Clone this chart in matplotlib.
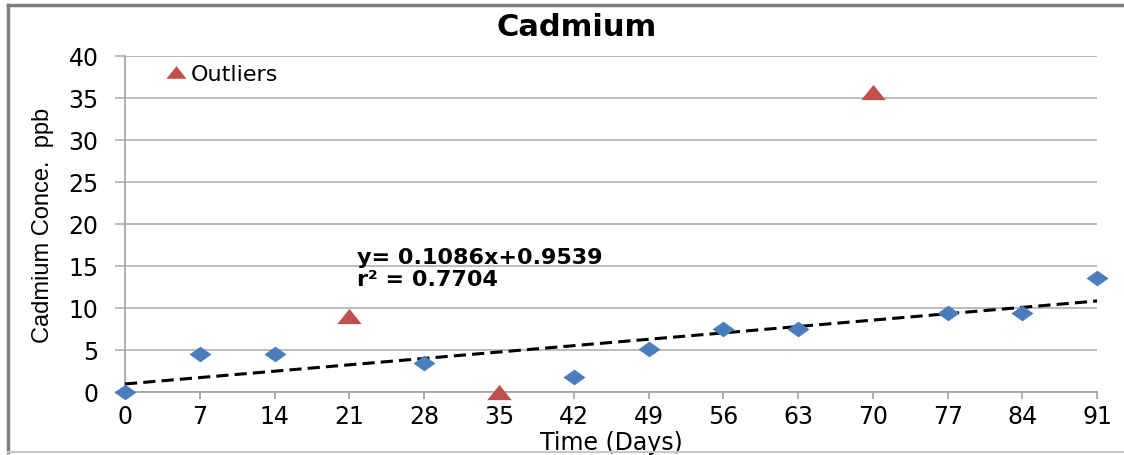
import matplotlib
matplotlib.use("Agg")
import matplotlib.pyplot as plt
from matplotlib.lines import Line2D
from matplotlib.path import Path
import numpy as np

plt.rcParams['font.family'] = ['DejaVu Sans']

# measured values
days = [0, 7, 14, 28, 42, 49, 56, 63, 77, 84, 91]
cadmium = [0.0, 4.5, 4.5, 3.5, 1.8, 5.1, 7.5, 7.5, 9.4, 9.4, 13.6]
outlier_days = [21, 35, 70]
outlier_vals = [9.0, 0.0, 35.7]
slope = 0.1086
intercept = 0.9539
r2 = 0.7704
xticks = list(range(0, 92, 7))
yticks = list(range(0, 41, 5))

# wide markers like the excel export
diamond = Path([(-1.4, 0), (0, 1), (1.4, 0), (0, -1), (-1.4, 0)],
               [Path.MOVETO, Path.LINETO, Path.LINETO, Path.LINETO, Path.CLOSEPOLY])
triangle = Path([(-1.6, -1), (1.6, -1), (0, 1), (-1.6, -1)],
                [Path.MOVETO, Path.LINETO, Path.LINETO, Path.CLOSEPOLY])

fig = plt.figure(figsize=(11.24, 4.56), dpi=100)
ax = fig.add_axes([0.1112, 0.1382, 0.865, 0.7368])

ax.set_xlim(0, 91)
ax.set_ylim(0, 40)
ax.set_xticks(xticks)
ax.set_yticks(yticks)
ax.grid(axis='y', color='#b0b0b0', linewidth=1.2)
ax.set_axisbelow(True)
for side in ['top', 'right']:
    ax.spines[side].set_visible(False)
for side in ['left', 'bottom']:
    ax.spines[side].set_color('#a0a0a0')
    ax.spines[side].set_linewidth(1.2)
ax.tick_params(axis='x', direction='out', length=5, color='#a0a0a0', width=1.2,
               labelsize=17, pad=4)
ax.tick_params(axis='y', direction='out', length=7, color='#b0b0b0', width=1.2,
               labelsize=17, pad=12)

# trend line
xs = np.array([0, 91])
ax.plot(xs, slope * xs + intercept, linestyle=(0, (4, 2)), color='black',
        linewidth=2.2, zorder=3)

ax.scatter(days, cadmium, marker=diamond, s=250, color='#4a7ebb', zorder=4,
           clip_on=False, linewidths=0)
ax.scatter(outlier_days, outlier_vals, marker=triangle, s=310, color='#c0504d',
           zorder=4, clip_on=False, linewidths=0)

ax.text(21.7, 14.76, "y= 0.1086x+0.9539\nr² = %.4f" % r2, fontsize=16,
        fontweight='bold', va='center', ha='left', linespacing=1.12)

handle = Line2D([], [], marker=triangle, color='#c0504d', linestyle='none',
                markersize=14.5, markeredgewidth=0)
ax.legend(handles=[handle], labels=['Outliers'], loc='center left',
          bbox_to_anchor=(0.041, 0.947), frameon=False, handletextpad=0.15,
          handlelength=1.0, fontsize=16, borderaxespad=0, borderpad=0)

fig.text(577 / 1124, 1 - 27 / 456, "Cadmium", fontsize=22, fontweight='bold',
         ha='center', va='center')
ax.set_xlabel("Time (Days)", fontsize=17, labelpad=1)
ax.set_ylabel("Cadmium Conce.  ppb", fontsize=17,
              family=['Liberation Sans Narrow', 'Liberation Sans'], labelpad=10)

# outer frame
fig.add_artist(Line2D([8 / 1124, 1], [1 - 6 / 456, 1 - 6 / 456], color='#7f7f7f',
                      linewidth=2.5, transform=fig.transFigure))
fig.add_artist(Line2D([8 / 1124, 8 / 1124], [1 - 6 / 456, 3 / 456], color='#7f7f7f',
                      linewidth=2.5, transform=fig.transFigure))
fig.add_artist(Line2D([8 / 1124, 1], [3 / 456, 3 / 456], color='#c8c8c8',
                      linewidth=1.5, transform=fig.transFigure))

fig.savefig("out.png", dpi=100)
